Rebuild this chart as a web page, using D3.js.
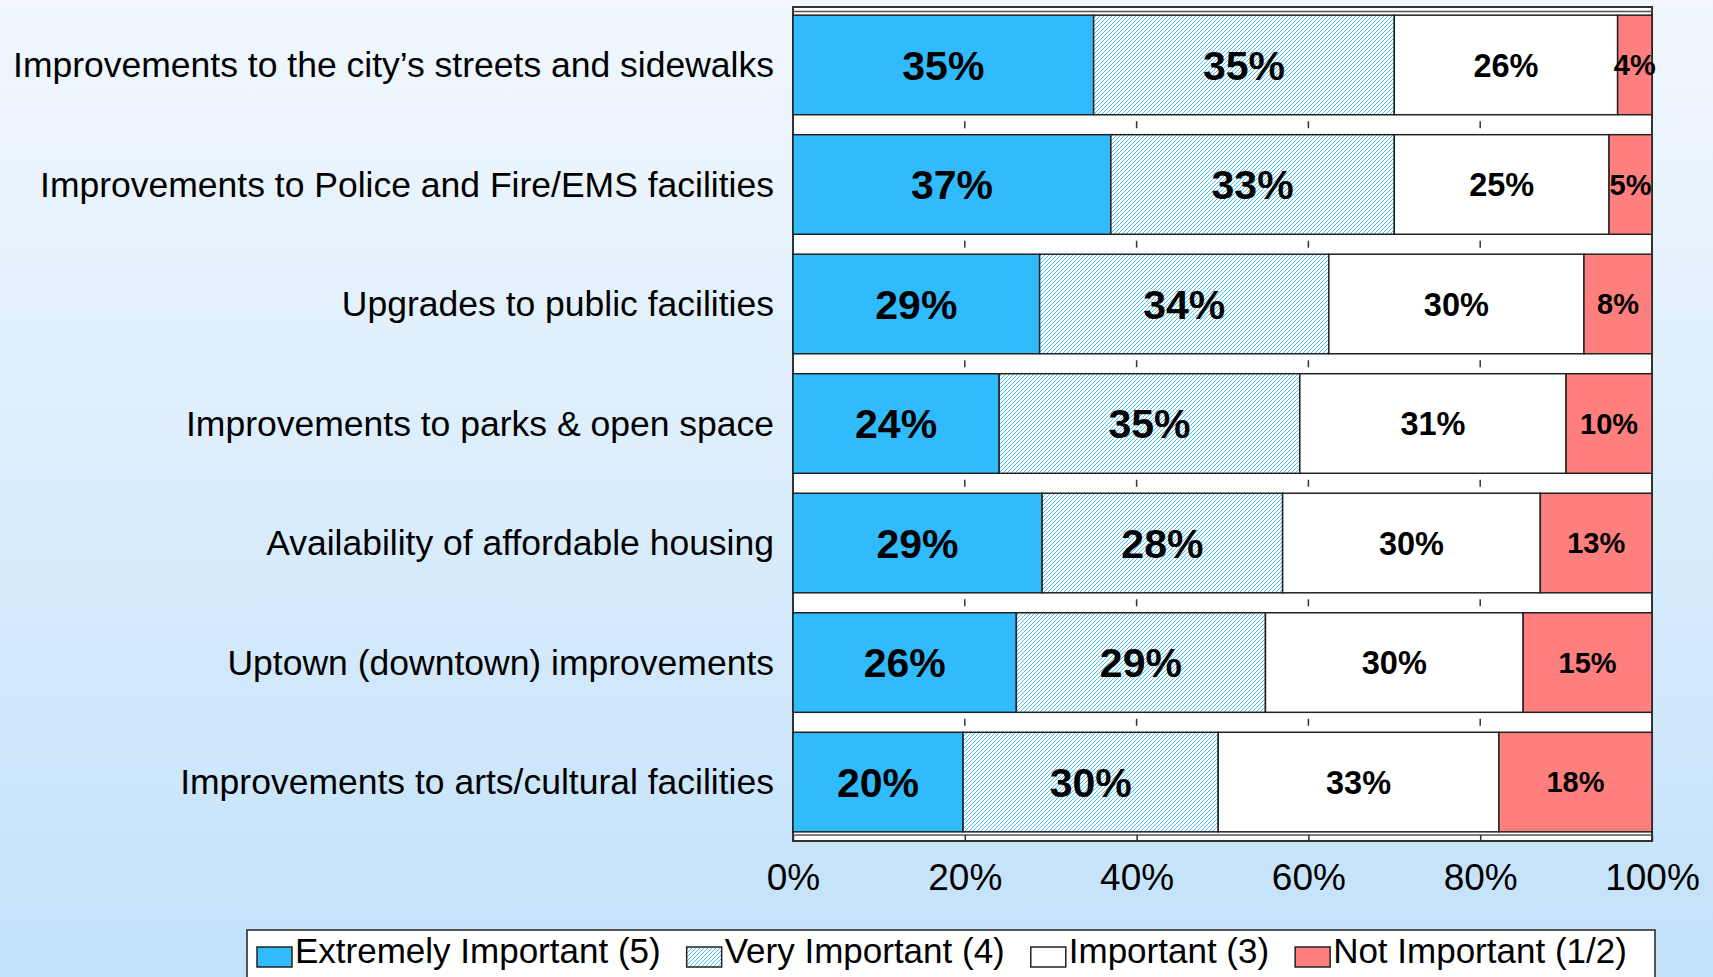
<!DOCTYPE html>
<html>
<head>
<meta charset="utf-8">
<script src="https://cdn.jsdelivr.net/npm/d3@7"></script>
<style>
  body { margin: 0; overflow: hidden; }
  text { font-family: "Liberation Sans", Arial, sans-serif; }
</style>
</head>
<body>
<div id="wrapper"></div>
<script>
var categories = [
	"Improvements to the city\u2019s streets and sidewalks",
	"Improvements to Police and Fire/EMS facilities",
	"Upgrades to public facilities",
	"Improvements to parks & open space",
	"Availability of affordable housing",
	"Uptown (downtown) improvements",
	"Improvements to arts/cultural facilities"
];
var extremely    = [35, 37, 29, 24, 29, 26, 20];
var very         = [35, 33, 34, 35, 28, 29, 30];
var important    = [26, 25, 30, 31, 30, 30, 33];
var notImportant = [4, 5, 8, 10, 13, 15, 18];
var seriesNames = ["Extremely Important (5)", "Very Important (4)", "Important (3)", "Not Important (1/2)"];
var xTicks = [0, 0.2, 0.4, 0.6, 0.8, 1];

var W = 1713, H = 977;
var plot = {left: 793, right: 1652, top: 7, bottom: 841};
var keys = ["e", "v", "i", "n"];
var fills = ["#31BBFF", "url(#hatch)", "#FFFFFF", "#FF7F7F"];
var labelSize = [41, 41, 32.5, 29];

var rows = categories.map(function(c, i) {
	return {cat: c, e: extremely[i], v: very[i], i: important[i], n: notImportant[i]};
});

var svg = d3.select("#wrapper")
			.append("svg")
			.attr("width", W)
			.attr("height", H);

var defs = svg.append("defs");
var grad = defs.append("linearGradient")
			.attr("id", "bg")
			.attr("x1", 0).attr("y1", 0).attr("x2", 0).attr("y2", 1);
grad.append("stop").attr("offset", "0%").attr("stop-color", "#F1F7FD");
grad.append("stop").attr("offset", "45%").attr("stop-color", "#DDEEFC");
grad.append("stop").attr("offset", "100%").attr("stop-color", "#C2E1FA");

var hatch = defs.append("pattern")
			.attr("id", "hatch")
			.attr("patternUnits", "userSpaceOnUse")
			.attr("width", 4)
			.attr("height", 4);
hatch.append("rect").attr("width", 4).attr("height", 4).attr("fill", "#FFFFFF");
hatch.append("path")
	.attr("d", "M-1,1 l2,-2 M0,4 l4,-4 M3,5 l2,-2")
	.attr("stroke", "#45C0FA")
	.attr("stroke-width", 1);

svg.append("rect")
	.attr("width", W)
	.attr("height", H)
	.attr("fill", "url(#bg)");

var x = d3.scaleLinear()
			.domain([0, 1])
			.range([plot.left, plot.right]);

var y = d3.scaleBand()
			.domain(categories)
			.range([8, 839])
			.paddingInner(0.167)
			.paddingOuter(0.06);

//plot frame
svg.append("rect")
	.attr("x", plot.left)
	.attr("y", plot.top)
	.attr("width", plot.right - plot.left)
	.attr("height", plot.bottom - plot.top)
	.attr("fill", "white")
	.attr("stroke", "#333")
	.attr("stroke-width", 2);

svg.selectAll("line.floor")
	.data([11.5, 835])
	.enter()
	.append("line")
	.attr("class", "floor")
	.attr("x1", plot.left)
	.attr("x2", plot.right)
	.attr("y1", function(d) { return d; })
	.attr("y2", function(d) { return d; })
	.attr("stroke", "#555")
	.attr("stroke-width", 1.5);

//little tick marks in the gaps between bars
var gapTicks = [];
categories.slice(0, -1).forEach(function(c) {
	var gc = y(c) + y.bandwidth() + (y.step() - y.bandwidth()) / 2;
	xTicks.slice(1, -1).forEach(function(t) { gapTicks.push({t: t, y: gc}); });
});
svg.selectAll("line.gtick")
	.data(gapTicks)
	.enter()
	.append("line")
	.attr("class", "gtick")
	.attr("x1", function(d) { return x(d.t); })
	.attr("x2", function(d) { return x(d.t); })
	.attr("y1", function(d) { return d.y - 3.5; })
	.attr("y2", function(d) { return d.y + 3.5; })
	.attr("stroke", "#333")
	.attr("stroke-width", 1.5);

var stacked = d3.stack().keys(keys).offset(d3.stackOffsetExpand)(rows);

var layers = svg.selectAll("g.layer")
	.data(stacked)
	.enter()
	.append("g")
	.attr("class", "layer");

layers.selectAll("rect")
	.data(function(s) { return s; })
	.enter()
	.append("rect")
	.attr("x", function(d) { return x(d[0]); })
	.attr("y", function(d) { return y(d.data.cat); })
	.attr("width", function(d) { return x(d[1]) - x(d[0]); })
	.attr("height", y.bandwidth())
	.attr("fill", function(d, i, n) { return fills[d3.select(n[i].parentNode).datum().index]; })
	.attr("stroke", "#222")
	.attr("stroke-width", 1.5);

layers.selectAll("text")
	.data(function(s) { return s.map(function(d) { return {d: d, k: s.key, idx: s.index}; }); })
	.enter()
	.append("text")
	.attr("x", function(o) { return (x(o.d[0]) + x(o.d[1])) / 2; })
	.attr("y", function(o) { return y(o.d.data.cat) + y.bandwidth() / 2; })
	.attr("dy", "0.36em")
	.attr("text-anchor", "middle")
	.style("font-weight", "bold")
	.style("font-size", function(o) { return labelSize[o.idx] + "px"; })
	.style("fill", "#000")
	.text(function(o) { return o.d.data[o.k] + "%"; });

//category names
svg.selectAll("text.name")
	.data(categories)
	.enter()
	.append("text")
	.attr("class", "name")
	.attr("x", 774)
	.attr("y", function(d) { return y(d) + y.bandwidth() / 2; })
	.attr("dy", "0.35em")
	.attr("text-anchor", "end")
	.style("font-size", "35.5px")
	.style("fill", "#000")
	.text(function(d) { return d; });

//x axis
var xAxis = svg.append("g")
	.attr("transform", "translate(0," + plot.bottom + ")")
	.call(d3.axisBottom(x)
		.tickValues(xTicks)
		.tickFormat(d3.format(".0%"))
		.tickSizeInner(-6)
		.tickSizeOuter(0)
		.tickPadding(23));
xAxis.select(".domain").remove();
xAxis.selectAll("line").attr("stroke", "#333").attr("stroke-width", 1.5);
xAxis.selectAll("text")
	.style("font-size", "37px")
	.style("font-family", "'Liberation Sans', Arial, sans-serif")
	.style("fill", "#000");

//legend
var legend = svg.append("g");
legend.append("rect")
	.attr("x", 247)
	.attr("y", 930)
	.attr("width", 1655 - 247)
	.attr("height", 70)
	.attr("fill", "white")
	.attr("stroke", "#222")
	.attr("stroke-width", 1.5);

var lx = 257;
seriesNames.forEach(function(name, i) {
	legend.append("rect")
		.attr("x", lx)
		.attr("y", 947)
		.attr("width", 35)
		.attr("height", 20)
		.attr("fill", fills[i])
		.attr("stroke", "#222")
		.attr("stroke-width", 1.5);
	var t = legend.append("text")
		.attr("x", lx + 38)
		.attr("y", 963)
		.style("font-size", "35px")
		.style("fill", "#000")
		.text(name);
	lx = lx + 38 + t.node().getComputedTextLength() + 26;
});
</script>
</body>
</html>
